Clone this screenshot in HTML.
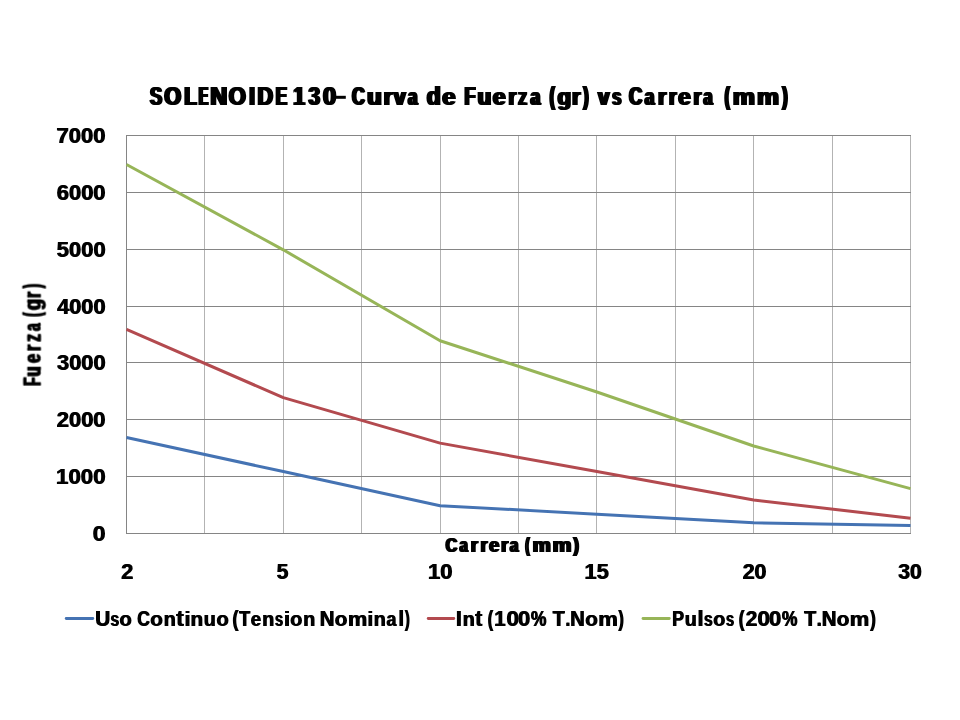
<!DOCTYPE html>
<html lang="es">
<head>
<meta charset="utf-8">
<title>SOLENOIDE 130- Curva de Fuerza (gr) vs Carrera (mm)</title>
<style>
html,body{margin:0;padding:0;background:#ffffff;}
body{width:960px;height:720px;overflow:hidden;font-family:"Liberation Sans",sans-serif;}
svg{display:block;}
text{font-family:"Liberation Sans",sans-serif;font-weight:bold;font-kerning:none;}
</style>
</head>
<body>
<svg width="960" height="720" viewBox="0 0 960 720">
<rect x="0" y="0" width="960" height="720" fill="#ffffff"/>
<path d="M204.90 135.00V534.00M283.30 135.00V534.00M361.70 135.00V534.00M440.10 135.00V534.00M518.50 135.00V534.00M596.90 135.00V534.00M675.30 135.00V534.00M753.70 135.00V534.00M832.10 135.00V534.00M910.50 135.00V534.00" fill="none" stroke="#b3b3b3" stroke-width="1" shape-rendering="crispEdges"/>
<path d="M126.00 533.50H911.00M126.00 476.64H911.00M126.00 419.79H911.00M126.00 362.93H911.00M126.00 306.07H911.00M126.00 249.21H911.00M126.00 192.36H911.00M126.00 135.50H911.00M126.50 135.00V534.00" fill="none" stroke="#858585" stroke-width="1" shape-rendering="crispEdges"/>
<polyline points="126.50,437.44 283.30,471.56 440.10,505.67 596.90,514.20 753.70,522.73 910.50,525.57" fill="none" stroke="#4573b3" stroke-width="3.0" stroke-linejoin="round" stroke-linecap="butt"/>
<polyline points="126.50,329.41 283.30,397.64 440.10,443.13 596.90,471.56 753.70,499.99 910.50,518.18" fill="none" stroke="#b34a4f" stroke-width="3.0" stroke-linejoin="round" stroke-linecap="butt"/>
<polyline points="126.50,164.53 283.30,249.81 440.10,340.79 596.90,391.96 753.70,445.97 910.50,488.61" fill="none" stroke="#97b558" stroke-width="3.0" stroke-linejoin="round" stroke-linecap="butt"/>
<g opacity="0.999">
<text id="t1" x="148.68" y="104.90" font-size="25.2" textLength="12.13" lengthAdjust="spacingAndGlyphs" font-family="Liberation Sans, sans-serif" font-weight="bold" fill="#000" >S</text><use href="#t1" x="1.30"/><use href="#t1" x="2.60"/>
<text id="t2" x="163.07" y="104.90" font-size="25.2" textLength="16.74" lengthAdjust="spacingAndGlyphs" font-family="Liberation Sans, sans-serif" font-weight="bold" fill="#000" >O</text><use href="#t2" x="1.30"/><use href="#t2" x="2.60"/>
<text id="t3" x="183.06" y="104.90" font-size="25.2" textLength="12.26" lengthAdjust="spacingAndGlyphs" font-family="Liberation Sans, sans-serif" font-weight="bold" fill="#000" >L</text><use href="#t3" x="1.30"/><use href="#t3" x="2.60"/>
<text id="t4" x="197.58" y="104.90" font-size="25.2" textLength="9.15" lengthAdjust="spacingAndGlyphs" font-family="Liberation Sans, sans-serif" font-weight="bold" fill="#000" >E</text><use href="#t4" x="1.30"/><use href="#t4" x="2.60"/>
<text id="t5" x="209.04" y="104.90" font-size="25.2" textLength="16.83" lengthAdjust="spacingAndGlyphs" font-family="Liberation Sans, sans-serif" font-weight="bold" fill="#000" >N</text><use href="#t5" x="1.30"/><use href="#t5" x="2.60"/>
<text id="t6" x="227.50" y="104.90" font-size="25.2" textLength="17.13" lengthAdjust="spacingAndGlyphs" font-family="Liberation Sans, sans-serif" font-weight="bold" fill="#000" >O</text><use href="#t6" x="1.30"/><use href="#t6" x="2.60"/>
<text id="t7" x="248.10" y="104.90" font-size="25.2" textLength="5.40" lengthAdjust="spacingAndGlyphs" font-family="Liberation Sans, sans-serif" font-weight="bold" fill="#000" >I</text><use href="#t7" x="1.30"/><use href="#t7" x="2.60"/>
<text id="t8" x="256.25" y="104.90" font-size="25.2" textLength="15.60" lengthAdjust="spacingAndGlyphs" font-family="Liberation Sans, sans-serif" font-weight="bold" fill="#000" >D</text><use href="#t8" x="1.30"/><use href="#t8" x="2.60"/>
<text id="t9" x="274.47" y="104.90" font-size="25.2" textLength="11.29" lengthAdjust="spacingAndGlyphs" font-family="Liberation Sans, sans-serif" font-weight="bold" fill="#000" >E</text><use href="#t9" x="1.30"/><use href="#t9" x="2.60"/>
<text id="t10" x="292.10" y="104.90" font-size="25.2" textLength="11.47" lengthAdjust="spacingAndGlyphs" font-family="Liberation Sans, sans-serif" font-weight="bold" fill="#000" >1</text><use href="#t10" x="1.30"/><use href="#t10" x="2.60"/>
<text id="t11" x="307.22" y="104.90" font-size="25.2" textLength="11.52" lengthAdjust="spacingAndGlyphs" font-family="Liberation Sans, sans-serif" font-weight="bold" fill="#000" >3</text><use href="#t11" x="1.30"/><use href="#t11" x="2.60"/>
<text id="t12" x="321.77" y="104.90" font-size="25.2" textLength="13.10" lengthAdjust="spacingAndGlyphs" font-family="Liberation Sans, sans-serif" font-weight="bold" fill="#000" >0</text><use href="#t12" x="1.30"/><use href="#t12" x="2.60"/>
<text id="t13" x="350.73" y="104.90" font-size="25.2" textLength="12.76" lengthAdjust="spacingAndGlyphs" font-family="Liberation Sans, sans-serif" font-weight="bold" fill="#000" >C</text><use href="#t13" x="1.30"/><use href="#t13" x="2.60"/>
<text id="t14" x="365.81" y="104.90" font-size="23.81" textLength="14.67" lengthAdjust="spacingAndGlyphs" font-family="Liberation Sans, sans-serif" font-weight="bold" fill="#000" >u</text><use href="#t14" x="1.30"/><use href="#t14" x="2.60"/>
<text id="t15" x="382.55" y="104.90" font-size="23.81" textLength="8.27" lengthAdjust="spacingAndGlyphs" font-family="Liberation Sans, sans-serif" font-weight="bold" fill="#000" >r</text><use href="#t15" x="1.30"/><use href="#t15" x="2.60"/>
<text id="t16" x="392.62" y="104.90" font-size="23.81" textLength="11.78" lengthAdjust="spacingAndGlyphs" font-family="Liberation Sans, sans-serif" font-weight="bold" fill="#000" >v</text><use href="#t16" x="1.30"/><use href="#t16" x="2.60"/>
<text id="t17" x="406.81" y="104.90" font-size="23.81" textLength="9.28" lengthAdjust="spacingAndGlyphs" font-family="Liberation Sans, sans-serif" font-weight="bold" fill="#000" >a</text><use href="#t17" x="1.30"/><use href="#t17" x="2.60"/>
<text id="t18" x="425.51" y="104.90" font-size="25.2" textLength="14.00" lengthAdjust="spacingAndGlyphs" font-family="Liberation Sans, sans-serif" font-weight="bold" fill="#000" >d</text><use href="#t18" x="1.30"/><use href="#t18" x="2.60"/>
<text id="t19" x="440.97" y="104.90" font-size="23.81" textLength="13.30" lengthAdjust="spacingAndGlyphs" font-family="Liberation Sans, sans-serif" font-weight="bold" fill="#000" >e</text><use href="#t19" x="1.30"/><use href="#t19" x="2.60"/>
<text id="t20" x="463.21" y="104.90" font-size="25.2" textLength="10.90" lengthAdjust="spacingAndGlyphs" font-family="Liberation Sans, sans-serif" font-weight="bold" fill="#000" >F</text><use href="#t20" x="1.30"/><use href="#t20" x="2.60"/>
<text id="t21" x="476.32" y="104.90" font-size="23.81" textLength="13.60" lengthAdjust="spacingAndGlyphs" font-family="Liberation Sans, sans-serif" font-weight="bold" fill="#000" >u</text><use href="#t21" x="1.30"/><use href="#t21" x="2.60"/>
<text id="t22" x="491.61" y="104.90" font-size="23.81" textLength="12.61" lengthAdjust="spacingAndGlyphs" font-family="Liberation Sans, sans-serif" font-weight="bold" fill="#000" >e</text><use href="#t22" x="1.30"/><use href="#t22" x="2.60"/>
<text id="t23" x="507.17" y="104.90" font-size="23.81" textLength="7.83" lengthAdjust="spacingAndGlyphs" font-family="Liberation Sans, sans-serif" font-weight="bold" fill="#000" >r</text><use href="#t23" x="1.30"/><use href="#t23" x="2.60"/>
<text id="t24" x="517.00" y="104.90" font-size="23.81" textLength="8.73" lengthAdjust="spacingAndGlyphs" font-family="Liberation Sans, sans-serif" font-weight="bold" fill="#000" >z</text><use href="#t24" x="1.30"/><use href="#t24" x="2.60"/>
<text id="t25" x="529.29" y="104.90" font-size="23.81" textLength="9.60" lengthAdjust="spacingAndGlyphs" font-family="Liberation Sans, sans-serif" font-weight="bold" fill="#000" >a</text><use href="#t25" x="1.30"/><use href="#t25" x="2.60"/>
<text id="t26" x="548.45" y="104.90" font-size="25.2" textLength="5.01" lengthAdjust="spacingAndGlyphs" font-family="Liberation Sans, sans-serif" font-weight="bold" fill="#000" >(</text><use href="#t26" x="1.30"/><use href="#t26" x="2.60"/>
<text id="t27" x="556.28" y="104.90" font-size="23.81" textLength="13.66" lengthAdjust="spacingAndGlyphs" font-family="Liberation Sans, sans-serif" font-weight="bold" fill="#000" >g</text><use href="#t27" x="1.30"/><use href="#t27" x="2.60"/>
<text id="t28" x="570.77" y="104.90" font-size="23.81" textLength="8.46" lengthAdjust="spacingAndGlyphs" font-family="Liberation Sans, sans-serif" font-weight="bold" fill="#000" >r</text><use href="#t28" x="1.30"/><use href="#t28" x="2.60"/>
<text id="t29" x="581.88" y="104.90" font-size="25.2" textLength="5.31" lengthAdjust="spacingAndGlyphs" font-family="Liberation Sans, sans-serif" font-weight="bold" fill="#000" >)</text><use href="#t29" x="1.30"/><use href="#t29" x="2.60"/>
<text id="t30" x="596.82" y="104.90" font-size="23.81" textLength="11.27" lengthAdjust="spacingAndGlyphs" font-family="Liberation Sans, sans-serif" font-weight="bold" fill="#000" >v</text><use href="#t30" x="1.30"/><use href="#t30" x="2.60"/>
<text id="t31" x="610.88" y="104.90" font-size="23.81" textLength="9.10" lengthAdjust="spacingAndGlyphs" font-family="Liberation Sans, sans-serif" font-weight="bold" fill="#000" >s</text><use href="#t31" x="1.30"/><use href="#t31" x="2.60"/>
<text id="t32" x="627.75" y="104.90" font-size="25.2" textLength="13.25" lengthAdjust="spacingAndGlyphs" font-family="Liberation Sans, sans-serif" font-weight="bold" fill="#000" >C</text><use href="#t32" x="1.30"/><use href="#t32" x="2.60"/>
<text id="t33" x="643.44" y="104.90" font-size="23.81" textLength="9.65" lengthAdjust="spacingAndGlyphs" font-family="Liberation Sans, sans-serif" font-weight="bold" fill="#000" >a</text><use href="#t33" x="1.30"/><use href="#t33" x="2.60"/>
<text id="t34" x="656.69" y="104.90" font-size="23.81" textLength="8.34" lengthAdjust="spacingAndGlyphs" font-family="Liberation Sans, sans-serif" font-weight="bold" fill="#000" >r</text><use href="#t34" x="1.30"/><use href="#t34" x="2.60"/>
<text id="t35" x="667.68" y="104.90" font-size="23.81" textLength="7.52" lengthAdjust="spacingAndGlyphs" font-family="Liberation Sans, sans-serif" font-weight="bold" fill="#000" >r</text><use href="#t35" x="1.30"/><use href="#t35" x="2.60"/>
<text id="t36" x="677.03" y="104.90" font-size="23.81" textLength="12.44" lengthAdjust="spacingAndGlyphs" font-family="Liberation Sans, sans-serif" font-weight="bold" fill="#000" >e</text><use href="#t36" x="1.30"/><use href="#t36" x="2.60"/>
<text id="t37" x="692.17" y="104.90" font-size="23.81" textLength="7.83" lengthAdjust="spacingAndGlyphs" font-family="Liberation Sans, sans-serif" font-weight="bold" fill="#000" >r</text><use href="#t37" x="1.30"/><use href="#t37" x="2.60"/>
<text id="t38" x="702.22" y="104.90" font-size="23.81" textLength="9.07" lengthAdjust="spacingAndGlyphs" font-family="Liberation Sans, sans-serif" font-weight="bold" fill="#000" >a</text><use href="#t38" x="1.30"/><use href="#t38" x="2.60"/>
<text id="t39" x="723.45" y="104.90" font-size="25.2" textLength="5.01" lengthAdjust="spacingAndGlyphs" font-family="Liberation Sans, sans-serif" font-weight="bold" fill="#000" >(</text><use href="#t39" x="1.30"/><use href="#t39" x="2.60"/>
<text id="t40" x="731.45" y="104.90" font-size="23.81" textLength="22.31" lengthAdjust="spacingAndGlyphs" font-family="Liberation Sans, sans-serif" font-weight="bold" fill="#000" >m</text><use href="#t40" x="1.30"/><use href="#t40" x="2.60"/>
<text id="t41" x="755.66" y="104.90" font-size="23.81" textLength="22.08" lengthAdjust="spacingAndGlyphs" font-family="Liberation Sans, sans-serif" font-weight="bold" fill="#000" >m</text><use href="#t41" x="1.30"/><use href="#t41" x="2.60"/>
<text id="t42" x="780.98" y="104.90" font-size="25.2" textLength="5.31" lengthAdjust="spacingAndGlyphs" font-family="Liberation Sans, sans-serif" font-weight="bold" fill="#000" >)</text><use href="#t42" x="1.30"/><use href="#t42" x="2.60"/>
<rect x="335.2" y="95.8" width="10.6" height="3" fill="#000"/>
<text id="t43" x="92.39" y="541.05" font-size="21.4" textLength="12.75" lengthAdjust="spacingAndGlyphs" font-family="Liberation Sans, sans-serif" font-weight="bold" fill="#000" >0</text><use href="#t43" x="1.00"/>
<text id="t44" x="55.60" y="484.19" font-size="21.4" textLength="49.51" lengthAdjust="spacingAndGlyphs" font-family="Liberation Sans, sans-serif" font-weight="bold" fill="#000" >1000</text><use href="#t44" x="1.00"/>
<text id="t45" x="56.24" y="427.34" font-size="21.4" textLength="48.86" lengthAdjust="spacingAndGlyphs" font-family="Liberation Sans, sans-serif" font-weight="bold" fill="#000" >2000</text><use href="#t45" x="1.00"/>
<text id="t46" x="56.50" y="370.48" font-size="21.4" textLength="48.60" lengthAdjust="spacingAndGlyphs" font-family="Liberation Sans, sans-serif" font-weight="bold" fill="#000" >3000</text><use href="#t46" x="1.00"/>
<text id="t47" x="56.67" y="313.62" font-size="21.4" textLength="48.42" lengthAdjust="spacingAndGlyphs" font-family="Liberation Sans, sans-serif" font-weight="bold" fill="#000" >4000</text><use href="#t47" x="1.00"/>
<text id="t48" x="56.33" y="256.76" font-size="21.4" textLength="48.77" lengthAdjust="spacingAndGlyphs" font-family="Liberation Sans, sans-serif" font-weight="bold" fill="#000" >5000</text><use href="#t48" x="1.00"/>
<text id="t49" x="56.19" y="199.91" font-size="21.4" textLength="48.91" lengthAdjust="spacingAndGlyphs" font-family="Liberation Sans, sans-serif" font-weight="bold" fill="#000" >6000</text><use href="#t49" x="1.00"/>
<text id="t50" x="56.05" y="143.05" font-size="21.4" textLength="49.05" lengthAdjust="spacingAndGlyphs" font-family="Liberation Sans, sans-serif" font-weight="bold" fill="#000" >7000</text><use href="#t50" x="1.00"/>
<text id="t51" x="120.85" y="579.00" font-size="21.4" textLength="12.01" lengthAdjust="spacingAndGlyphs" font-family="Liberation Sans, sans-serif" font-weight="bold" fill="#000" >2</text><use href="#t51" x="1.00"/>
<text id="t52" x="276.26" y="579.00" font-size="21.4" textLength="11.62" lengthAdjust="spacingAndGlyphs" font-family="Liberation Sans, sans-serif" font-weight="bold" fill="#000" >5</text><use href="#t52" x="1.00"/>
<text id="t53" x="427.41" y="579.00" font-size="21.4" textLength="24.49" lengthAdjust="spacingAndGlyphs" font-family="Liberation Sans, sans-serif" font-weight="bold" fill="#000" >10</text><use href="#t53" x="1.00"/>
<text id="t54" x="584.13" y="579.00" font-size="21.4" textLength="24.17" lengthAdjust="spacingAndGlyphs" font-family="Liberation Sans, sans-serif" font-weight="bold" fill="#000" >15</text><use href="#t54" x="1.00"/>
<text id="t55" x="742.16" y="579.00" font-size="21.4" textLength="23.82" lengthAdjust="spacingAndGlyphs" font-family="Liberation Sans, sans-serif" font-weight="bold" fill="#000" >20</text><use href="#t55" x="1.00"/>
<text id="t56" x="897.81" y="579.00" font-size="21.4" textLength="23.55" lengthAdjust="spacingAndGlyphs" font-family="Liberation Sans, sans-serif" font-weight="bold" fill="#000" >30</text><use href="#t56" x="1.00"/>
<text id="t57" x="444.54" y="551.80" font-size="21.0" textLength="11.60" lengthAdjust="spacingAndGlyphs" font-family="Liberation Sans, sans-serif" font-weight="bold" fill="#000" >C</text><use href="#t57" x="1.10"/><use href="#t57" x="2.20"/>
<text id="t58" x="458.57" y="551.80" font-size="19.84" textLength="8.14" lengthAdjust="spacingAndGlyphs" font-family="Liberation Sans, sans-serif" font-weight="bold" fill="#000" >a</text><use href="#t58" x="1.10"/><use href="#t58" x="2.20"/>
<text id="t59" x="469.81" y="551.80" font-size="19.84" textLength="7.01" lengthAdjust="spacingAndGlyphs" font-family="Liberation Sans, sans-serif" font-weight="bold" fill="#000" >r</text><use href="#t59" x="1.10"/><use href="#t59" x="2.20"/>
<text id="t60" x="479.54" y="551.80" font-size="19.84" textLength="6.82" lengthAdjust="spacingAndGlyphs" font-family="Liberation Sans, sans-serif" font-weight="bold" fill="#000" >r</text><use href="#t60" x="1.10"/><use href="#t60" x="2.20"/>
<text id="t61" x="488.03" y="551.80" font-size="19.84" textLength="10.19" lengthAdjust="spacingAndGlyphs" font-family="Liberation Sans, sans-serif" font-weight="bold" fill="#000" >e</text><use href="#t61" x="1.10"/><use href="#t61" x="2.20"/>
<text id="t62" x="500.06" y="551.80" font-size="19.84" textLength="7.01" lengthAdjust="spacingAndGlyphs" font-family="Liberation Sans, sans-serif" font-weight="bold" fill="#000" >r</text><use href="#t62" x="1.10"/><use href="#t62" x="2.20"/>
<text id="t63" x="508.75" y="551.80" font-size="19.84" textLength="8.55" lengthAdjust="spacingAndGlyphs" font-family="Liberation Sans, sans-serif" font-weight="bold" fill="#000" >a</text><use href="#t63" x="1.10"/><use href="#t63" x="2.20"/>
<text id="t64" x="524.36" y="551.80" font-size="21.0" textLength="4.25" lengthAdjust="spacingAndGlyphs" font-family="Liberation Sans, sans-serif" font-weight="bold" fill="#000" >(</text><use href="#t64" x="1.10"/><use href="#t64" x="2.20"/>
<text id="t65" x="531.55" y="551.80" font-size="19.84" textLength="18.22" lengthAdjust="spacingAndGlyphs" font-family="Liberation Sans, sans-serif" font-weight="bold" fill="#000" >m</text><use href="#t65" x="1.10"/><use href="#t65" x="2.20"/>
<text id="t66" x="551.50" y="551.80" font-size="19.84" textLength="18.86" lengthAdjust="spacingAndGlyphs" font-family="Liberation Sans, sans-serif" font-weight="bold" fill="#000" >m</text><use href="#t66" x="1.10"/><use href="#t66" x="2.20"/>
<text id="t67" x="572.28" y="551.80" font-size="21.0" textLength="5.55" lengthAdjust="spacingAndGlyphs" font-family="Liberation Sans, sans-serif" font-weight="bold" fill="#000" >)</text><use href="#t67" x="1.10"/><use href="#t67" x="2.20"/>
<g transform="translate(40.6 385.7) rotate(-90)">
<text id="t68" x="-0.77" y="0.00" font-size="23.2" textLength="8.43" lengthAdjust="spacingAndGlyphs" font-family="Liberation Sans, sans-serif" font-weight="bold" fill="#000" stroke="#000" stroke-width="0.3" stroke-linejoin="round">F</text><use href="#t68" x="1.30"/>
<text id="t69" x="8.58" y="0.00" font-size="23.2" textLength="10.06" lengthAdjust="spacingAndGlyphs" font-family="Liberation Sans, sans-serif" font-weight="bold" fill="#000" stroke="#000" stroke-width="0.3" stroke-linejoin="round">u</text><use href="#t69" x="1.30"/>
<text id="t70" x="22.34" y="0.00" font-size="23.2" textLength="8.70" lengthAdjust="spacingAndGlyphs" font-family="Liberation Sans, sans-serif" font-weight="bold" fill="#000" stroke="#000" stroke-width="0.3" stroke-linejoin="round">e</text><use href="#t70" x="1.30"/>
<text id="t71" x="33.98" y="0.00" font-size="23.2" textLength="6.32" lengthAdjust="spacingAndGlyphs" font-family="Liberation Sans, sans-serif" font-weight="bold" fill="#000" stroke="#000" stroke-width="0.3" stroke-linejoin="round">r</text><use href="#t71" x="1.30"/>
<text id="t72" x="43.55" y="0.00" font-size="23.2" textLength="7.49" lengthAdjust="spacingAndGlyphs" font-family="Liberation Sans, sans-serif" font-weight="bold" fill="#000" stroke="#000" stroke-width="0.3" stroke-linejoin="round">z</text><use href="#t72" x="1.30"/>
<text id="t73" x="54.16" y="0.00" font-size="23.2" textLength="7.41" lengthAdjust="spacingAndGlyphs" font-family="Liberation Sans, sans-serif" font-weight="bold" fill="#000" stroke="#000" stroke-width="0.3" stroke-linejoin="round">a</text><use href="#t73" x="1.30"/>
<text id="t74" x="68.50" y="0.00" font-size="23.2" textLength="4.01" lengthAdjust="spacingAndGlyphs" font-family="Liberation Sans, sans-serif" font-weight="bold" fill="#000" stroke="#000" stroke-width="0.3" stroke-linejoin="round">(</text><use href="#t74" x="1.30"/>
<text id="t75" x="75.00" y="0.00" font-size="23.2" textLength="11.23" lengthAdjust="spacingAndGlyphs" font-family="Liberation Sans, sans-serif" font-weight="bold" fill="#000" stroke="#000" stroke-width="0.3" stroke-linejoin="round">g</text><use href="#t75" x="1.30"/>
<text id="t76" x="87.24" y="0.00" font-size="23.2" textLength="5.94" lengthAdjust="spacingAndGlyphs" font-family="Liberation Sans, sans-serif" font-weight="bold" fill="#000" stroke="#000" stroke-width="0.3" stroke-linejoin="round">r</text><use href="#t76" x="1.30"/>
<text id="t77" x="97.04" y="0.00" font-size="23.2" textLength="4.01" lengthAdjust="spacingAndGlyphs" font-family="Liberation Sans, sans-serif" font-weight="bold" fill="#000" stroke="#000" stroke-width="0.3" stroke-linejoin="round">)</text><use href="#t77" x="1.30"/>
</g>
<line x1="66.2" y1="618.5" x2="92.8" y2="618.5" stroke="#4573b3" stroke-width="2.8" stroke-linecap="round"/>
<line x1="428.2" y1="618.5" x2="453.8" y2="618.5" stroke="#b34a4f" stroke-width="2.8" stroke-linecap="round"/>
<line x1="643.0" y1="618.5" x2="669.3" y2="618.5" stroke="#97b558" stroke-width="2.8" stroke-linecap="round"/>
<text id="t78" x="94.75" y="625.70" font-size="21.5" textLength="15.02" lengthAdjust="spacingAndGlyphs" font-family="Liberation Sans, sans-serif" font-weight="bold" fill="#000" >U</text><use href="#t78" x="1.00"/>
<text id="t79" x="109.95" y="625.70" font-size="20.32" textLength="8.69" lengthAdjust="spacingAndGlyphs" font-family="Liberation Sans, sans-serif" font-weight="bold" fill="#000" >s</text><use href="#t79" x="1.00"/>
<text id="t80" x="119.02" y="625.70" font-size="20.32" textLength="12.27" lengthAdjust="spacingAndGlyphs" font-family="Liberation Sans, sans-serif" font-weight="bold" fill="#000" >o</text><use href="#t80" x="1.00"/>
<text id="t81" x="136.78" y="625.70" font-size="21.5" textLength="12.70" lengthAdjust="spacingAndGlyphs" font-family="Liberation Sans, sans-serif" font-weight="bold" fill="#000" >C</text><use href="#t81" x="1.00"/>
<text id="t82" x="149.69" y="625.70" font-size="20.32" textLength="12.61" lengthAdjust="spacingAndGlyphs" font-family="Liberation Sans, sans-serif" font-weight="bold" fill="#000" >o</text><use href="#t82" x="1.00"/>
<text id="t83" x="163.20" y="625.70" font-size="20.32" textLength="12.02" lengthAdjust="spacingAndGlyphs" font-family="Liberation Sans, sans-serif" font-weight="bold" fill="#000" >n</text><use href="#t83" x="1.00"/>
<text id="t84" x="175.72" y="625.70" font-size="21.5" textLength="7.55" lengthAdjust="spacingAndGlyphs" font-family="Liberation Sans, sans-serif" font-weight="bold" fill="#000" >t</text><use href="#t84" x="1.00"/>
<text id="t85" x="183.97" y="625.70" font-size="20.32" textLength="6.07" lengthAdjust="spacingAndGlyphs" font-family="Liberation Sans, sans-serif" font-weight="bold" fill="#000" >i</text><use href="#t85" x="1.00"/>
<text id="t86" x="190.13" y="625.70" font-size="20.32" textLength="12.65" lengthAdjust="spacingAndGlyphs" font-family="Liberation Sans, sans-serif" font-weight="bold" fill="#000" >n</text><use href="#t86" x="1.00"/>
<text id="t87" x="203.28" y="625.70" font-size="20.32" textLength="12.02" lengthAdjust="spacingAndGlyphs" font-family="Liberation Sans, sans-serif" font-weight="bold" fill="#000" >u</text><use href="#t87" x="1.00"/>
<text id="t88" x="216.02" y="625.70" font-size="20.32" textLength="12.27" lengthAdjust="spacingAndGlyphs" font-family="Liberation Sans, sans-serif" font-weight="bold" fill="#000" >o</text><use href="#t88" x="1.00"/>
<text id="t89" x="232.12" y="625.70" font-size="21.5" textLength="5.90" lengthAdjust="spacingAndGlyphs" font-family="Liberation Sans, sans-serif" font-weight="bold" fill="#000" >(</text><use href="#t89" x="1.00"/>
<text id="t90" x="238.80" y="625.70" font-size="21.5" textLength="10.89" lengthAdjust="spacingAndGlyphs" font-family="Liberation Sans, sans-serif" font-weight="bold" fill="#000" >T</text><use href="#t90" x="1.00"/>
<text id="t91" x="250.27" y="625.70" font-size="20.32" textLength="10.37" lengthAdjust="spacingAndGlyphs" font-family="Liberation Sans, sans-serif" font-weight="bold" fill="#000" >e</text><use href="#t91" x="1.00"/>
<text id="t92" x="261.70" y="625.70" font-size="20.32" textLength="12.02" lengthAdjust="spacingAndGlyphs" font-family="Liberation Sans, sans-serif" font-weight="bold" fill="#000" >n</text><use href="#t92" x="1.00"/>
<text id="t93" x="274.49" y="625.70" font-size="20.32" textLength="8.11" lengthAdjust="spacingAndGlyphs" font-family="Liberation Sans, sans-serif" font-weight="bold" fill="#000" >s</text><use href="#t93" x="1.00"/>
<text id="t94" x="283.47" y="625.70" font-size="20.32" textLength="6.07" lengthAdjust="spacingAndGlyphs" font-family="Liberation Sans, sans-serif" font-weight="bold" fill="#000" >i</text><use href="#t94" x="1.00"/>
<text id="t95" x="289.73" y="625.70" font-size="20.32" textLength="12.04" lengthAdjust="spacingAndGlyphs" font-family="Liberation Sans, sans-serif" font-weight="bold" fill="#000" >o</text><use href="#t95" x="1.00"/>
<text id="t96" x="302.70" y="625.70" font-size="20.32" textLength="12.02" lengthAdjust="spacingAndGlyphs" font-family="Liberation Sans, sans-serif" font-weight="bold" fill="#000" >n</text><use href="#t96" x="1.00"/>
<text id="t97" x="319.13" y="625.70" font-size="21.5" textLength="14.74" lengthAdjust="spacingAndGlyphs" font-family="Liberation Sans, sans-serif" font-weight="bold" fill="#000" >N</text><use href="#t97" x="1.00"/>
<text id="t98" x="334.19" y="625.70" font-size="20.32" textLength="12.61" lengthAdjust="spacingAndGlyphs" font-family="Liberation Sans, sans-serif" font-weight="bold" fill="#000" >o</text><use href="#t98" x="1.00"/>
<text id="t99" x="347.57" y="625.70" font-size="20.32" textLength="19.27" lengthAdjust="spacingAndGlyphs" font-family="Liberation Sans, sans-serif" font-weight="bold" fill="#000" >m</text><use href="#t99" x="1.00"/>
<text id="t100" x="367.08" y="625.70" font-size="20.32" textLength="5.67" lengthAdjust="spacingAndGlyphs" font-family="Liberation Sans, sans-serif" font-weight="bold" fill="#000" >i</text><use href="#t100" x="1.00"/>
<text id="t101" x="373.20" y="625.70" font-size="20.32" textLength="12.02" lengthAdjust="spacingAndGlyphs" font-family="Liberation Sans, sans-serif" font-weight="bold" fill="#000" >n</text><use href="#t101" x="1.00"/>
<text id="t102" x="385.98" y="625.70" font-size="20.32" textLength="9.91" lengthAdjust="spacingAndGlyphs" font-family="Liberation Sans, sans-serif" font-weight="bold" fill="#000" >a</text><use href="#t102" x="1.00"/>
<text id="t103" x="397.93" y="625.70" font-size="21.5" textLength="5.47" lengthAdjust="spacingAndGlyphs" font-family="Liberation Sans, sans-serif" font-weight="bold" fill="#000" >l</text><use href="#t103" x="1.00"/>
<text id="t104" x="404.49" y="625.70" font-size="21.5" textLength="4.72" lengthAdjust="spacingAndGlyphs" font-family="Liberation Sans, sans-serif" font-weight="bold" fill="#000" >)</text><use href="#t104" x="1.00"/>
<text id="t105" x="455.61" y="625.70" font-size="21.5" textLength="5.79" lengthAdjust="spacingAndGlyphs" font-family="Liberation Sans, sans-serif" font-weight="bold" fill="#000" >I</text><use href="#t105" x="1.00"/>
<text id="t106" x="462.20" y="625.70" font-size="20.32" textLength="12.02" lengthAdjust="spacingAndGlyphs" font-family="Liberation Sans, sans-serif" font-weight="bold" fill="#000" >n</text><use href="#t106" x="1.00"/>
<text id="t107" x="474.74" y="625.70" font-size="21.5" textLength="7.01" lengthAdjust="spacingAndGlyphs" font-family="Liberation Sans, sans-serif" font-weight="bold" fill="#000" >t</text><use href="#t107" x="1.00"/>
<text id="t108" x="487.21" y="625.70" font-size="21.5" textLength="5.31" lengthAdjust="spacingAndGlyphs" font-family="Liberation Sans, sans-serif" font-weight="bold" fill="#000" >(</text><use href="#t108" x="1.00"/>
<text id="t109" x="493.71" y="625.70" font-size="21.5" textLength="11.35" lengthAdjust="spacingAndGlyphs" font-family="Liberation Sans, sans-serif" font-weight="bold" fill="#000" >1</text><use href="#t109" x="1.00"/>
<text id="t110" x="505.91" y="625.70" font-size="21.5" textLength="12.51" lengthAdjust="spacingAndGlyphs" font-family="Liberation Sans, sans-serif" font-weight="bold" fill="#000" >0</text><use href="#t110" x="1.00"/>
<text id="t111" x="517.63" y="625.70" font-size="21.5" textLength="12.28" lengthAdjust="spacingAndGlyphs" font-family="Liberation Sans, sans-serif" font-weight="bold" fill="#000" >0</text><use href="#t111" x="1.00"/>
<text id="t112" x="530.57" y="625.70" font-size="21.5" textLength="15.39" lengthAdjust="spacingAndGlyphs" font-family="Liberation Sans, sans-serif" font-weight="bold" fill="#000" >%</text><use href="#t112" x="1.00"/>
<text id="t113" x="552.28" y="625.70" font-size="21.5" textLength="11.93" lengthAdjust="spacingAndGlyphs" font-family="Liberation Sans, sans-serif" font-weight="bold" fill="#000" >T</text><use href="#t113" x="1.00"/>
<text id="t114" x="564.95" y="625.70" font-size="21.5" textLength="4.73" lengthAdjust="spacingAndGlyphs" font-family="Liberation Sans, sans-serif" font-weight="bold" fill="#000" >.</text><use href="#t114" x="1.00"/>
<text id="t115" x="569.86" y="625.70" font-size="21.5" textLength="14.50" lengthAdjust="spacingAndGlyphs" font-family="Liberation Sans, sans-serif" font-weight="bold" fill="#000" >N</text><use href="#t115" x="1.00"/>
<text id="t116" x="584.69" y="625.70" font-size="20.32" textLength="12.61" lengthAdjust="spacingAndGlyphs" font-family="Liberation Sans, sans-serif" font-weight="bold" fill="#000" >o</text><use href="#t116" x="1.00"/>
<text id="t117" x="597.75" y="625.70" font-size="20.32" textLength="19.62" lengthAdjust="spacingAndGlyphs" font-family="Liberation Sans, sans-serif" font-weight="bold" fill="#000" >m</text><use href="#t117" x="1.00"/>
<text id="t118" x="617.98" y="625.70" font-size="21.5" textLength="5.31" lengthAdjust="spacingAndGlyphs" font-family="Liberation Sans, sans-serif" font-weight="bold" fill="#000" >)</text><use href="#t118" x="1.00"/>
<text id="t119" x="671.82" y="625.70" font-size="21.5" textLength="11.79" lengthAdjust="spacingAndGlyphs" font-family="Liberation Sans, sans-serif" font-weight="bold" fill="#000" >P</text><use href="#t119" x="1.00"/>
<text id="t120" x="684.28" y="625.70" font-size="20.32" textLength="12.02" lengthAdjust="spacingAndGlyphs" font-family="Liberation Sans, sans-serif" font-weight="bold" fill="#000" >u</text><use href="#t120" x="1.00"/>
<text id="t121" x="696.97" y="625.70" font-size="21.5" textLength="6.07" lengthAdjust="spacingAndGlyphs" font-family="Liberation Sans, sans-serif" font-weight="bold" fill="#000" >l</text><use href="#t121" x="1.00"/>
<text id="t122" x="703.45" y="625.70" font-size="20.32" textLength="8.69" lengthAdjust="spacingAndGlyphs" font-family="Liberation Sans, sans-serif" font-weight="bold" fill="#000" >s</text><use href="#t122" x="1.00"/>
<text id="t123" x="712.73" y="625.70" font-size="20.32" textLength="12.04" lengthAdjust="spacingAndGlyphs" font-family="Liberation Sans, sans-serif" font-weight="bold" fill="#000" >o</text><use href="#t123" x="1.00"/>
<text id="t124" x="725.49" y="625.70" font-size="20.32" textLength="8.11" lengthAdjust="spacingAndGlyphs" font-family="Liberation Sans, sans-serif" font-weight="bold" fill="#000" >s</text><use href="#t124" x="1.00"/>
<text id="t125" x="738.35" y="625.70" font-size="21.5" textLength="5.66" lengthAdjust="spacingAndGlyphs" font-family="Liberation Sans, sans-serif" font-weight="bold" fill="#000" >(</text><use href="#t125" x="1.00"/>
<text id="t126" x="745.28" y="625.70" font-size="21.5" textLength="11.55" lengthAdjust="spacingAndGlyphs" font-family="Liberation Sans, sans-serif" font-weight="bold" fill="#000" >2</text><use href="#t126" x="1.00"/>
<text id="t127" x="756.91" y="625.70" font-size="21.5" textLength="12.51" lengthAdjust="spacingAndGlyphs" font-family="Liberation Sans, sans-serif" font-weight="bold" fill="#000" >0</text><use href="#t127" x="1.00"/>
<text id="t128" x="768.63" y="625.70" font-size="21.5" textLength="12.28" lengthAdjust="spacingAndGlyphs" font-family="Liberation Sans, sans-serif" font-weight="bold" fill="#000" >0</text><use href="#t128" x="1.00"/>
<text id="t129" x="781.57" y="625.70" font-size="21.5" textLength="15.39" lengthAdjust="spacingAndGlyphs" font-family="Liberation Sans, sans-serif" font-weight="bold" fill="#000" >%</text><use href="#t129" x="1.00"/>
<text id="t130" x="803.78" y="625.70" font-size="21.5" textLength="11.93" lengthAdjust="spacingAndGlyphs" font-family="Liberation Sans, sans-serif" font-weight="bold" fill="#000" >T</text><use href="#t130" x="1.00"/>
<text id="t131" x="816.30" y="625.70" font-size="21.5" textLength="4.92" lengthAdjust="spacingAndGlyphs" font-family="Liberation Sans, sans-serif" font-weight="bold" fill="#000" >.</text><use href="#t131" x="1.00"/>
<text id="t132" x="821.13" y="625.70" font-size="21.5" textLength="14.74" lengthAdjust="spacingAndGlyphs" font-family="Liberation Sans, sans-serif" font-weight="bold" fill="#000" >N</text><use href="#t132" x="1.00"/>
<text id="t133" x="836.19" y="625.70" font-size="20.32" textLength="12.61" lengthAdjust="spacingAndGlyphs" font-family="Liberation Sans, sans-serif" font-weight="bold" fill="#000" >o</text><use href="#t133" x="1.00"/>
<text id="t134" x="849.35" y="625.70" font-size="20.32" textLength="19.51" lengthAdjust="spacingAndGlyphs" font-family="Liberation Sans, sans-serif" font-weight="bold" fill="#000" >m</text><use href="#t134" x="1.00"/>
<text id="t135" x="869.78" y="625.70" font-size="21.5" textLength="5.55" lengthAdjust="spacingAndGlyphs" font-family="Liberation Sans, sans-serif" font-weight="bold" fill="#000" >)</text><use href="#t135" x="1.00"/>
</g>
</svg>
</body>
</html>
